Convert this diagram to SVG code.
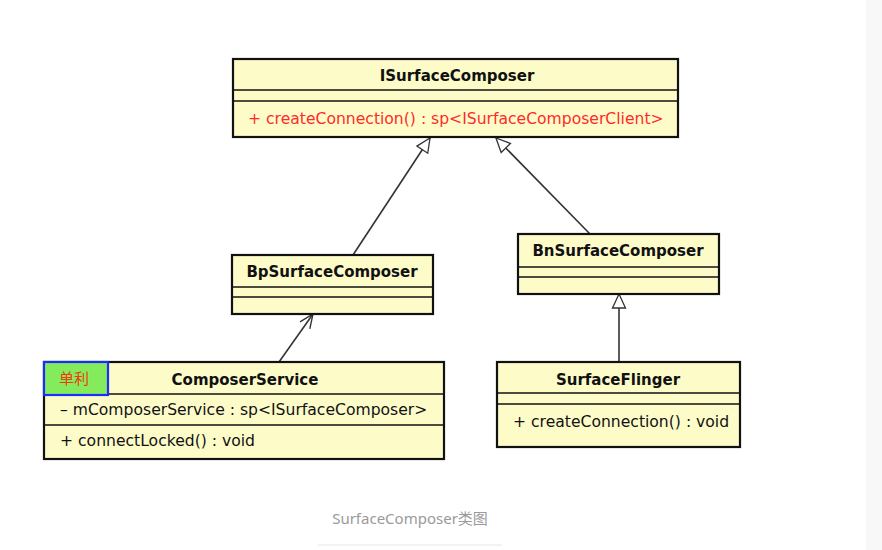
<svg xmlns="http://www.w3.org/2000/svg" width="882" height="550" viewBox="0 0 882 550">
<defs>
<style>
.box{fill:#fdfcc9;stroke:#111;stroke-width:2.2}
.sep{stroke:#111;stroke-width:1.3}
.t{font-family:"DejaVu Sans","Noto Sans",sans-serif;font-size:15px;font-weight:bold;fill:#111;text-anchor:middle}
.m{font-family:"DejaVu Sans","Noto Sans",sans-serif;font-size:15.6px;fill:#111}
.red{fill:#ff2a2a}
.conn{stroke:#333;stroke-width:1.6;fill:none}
.cap{font-family:"Noto Sans","DejaVu Sans","Noto Sans CJK SC",sans-serif;font-size:15px;fill:#9a9a9a;text-anchor:middle}
</style>
<marker id="gen" markerWidth="16" markerHeight="16" refX="15" refY="8" orient="auto" markerUnits="userSpaceOnUse">
<path d="M1,1.5 L15,8 L1,14.5 Z" fill="#fff" stroke="#333" stroke-width="1.3"/>
</marker>
<marker id="open" markerWidth="16" markerHeight="16" refX="15" refY="8" orient="auto" markerUnits="userSpaceOnUse">
<path d="M1,2 L15,8 L1,14" fill="none" stroke="#333" stroke-width="1.4"/>
</marker>
</defs>
<rect width="882" height="550" fill="#fff"/>
<rect x="866" y="0" width="16" height="550" fill="#f8f8f8"/>

<g id="connectors">
<line class="conn" x1="353" y1="255" x2="430" y2="138" marker-end="url(#gen)"/>
<line class="conn" x1="590" y1="234" x2="496" y2="138" marker-end="url(#gen)"/>
<line class="conn" x1="619" y1="362" x2="619" y2="294" marker-end="url(#gen)"/>
<line class="conn" x1="279" y1="362" x2="313" y2="314" marker-end="url(#open)"/>
</g>

<g id="ISurfaceComposer">
<rect class="box" x="233" y="59" width="445" height="78"/>
<line class="sep" x1="233" y1="90" x2="678" y2="90"/>
<line class="sep" x1="233" y1="101" x2="678" y2="101"/>
<text class="t" x="457" y="81">ISurfaceComposer</text>
<text class="m red" x="248" y="124">+ createConnection() : sp&lt;ISurfaceComposerClient&gt;</text>
</g>

<g id="BpSurfaceComposer">
<rect class="box" x="232" y="255" width="201" height="59"/>
<line class="sep" x1="232" y1="287" x2="433" y2="287"/>
<line class="sep" x1="232" y1="297" x2="433" y2="297"/>
<text class="t" x="332" y="277">BpSurfaceComposer</text>
</g>

<g id="BnSurfaceComposer">
<rect class="box" x="518" y="234" width="201" height="60"/>
<line class="sep" x1="518" y1="267" x2="719" y2="267"/>
<line class="sep" x1="518" y1="277" x2="719" y2="277"/>
<text class="t" x="618" y="256">BnSurfaceComposer</text>
</g>

<g id="ComposerService">
<rect class="box" x="44" y="362" width="400" height="97"/>
<line class="sep" x1="44" y1="394" x2="444" y2="394"/>
<line class="sep" x1="44" y1="425" x2="444" y2="425"/>
<rect x="44" y="362" width="64" height="33" fill="#84ec5c" stroke="#1a2cff" stroke-width="2.2"/>
<text x="59" y="384" font-family="Noto Sans CJK SC,sans-serif" font-size="15" fill="#f03a10">单利</text>
<text class="t" x="245" y="385">ComposerService</text>
<text class="m" x="60" y="415">– mComposerService : sp&lt;ISurfaceComposer&gt;</text>
<text class="m" x="60" y="446">+ connectLocked() : void</text>
</g>

<g id="SurfaceFlinger">
<rect class="box" x="497" y="362" width="243" height="85"/>
<line class="sep" x1="497" y1="393" x2="740" y2="393"/>
<line class="sep" x1="497" y1="404" x2="740" y2="404"/>
<text class="t" x="618" y="385">SurfaceFlinger</text>
<text class="m" x="513" y="427">+ createConnection() : void</text>
</g>

<g id="caption">
<text class="cap" x="410" y="524">SurfaceComposer类图</text>
<line x1="318" y1="545" x2="502" y2="545" stroke="#e6e6e6" stroke-width="1"/>
</g>
</svg>
